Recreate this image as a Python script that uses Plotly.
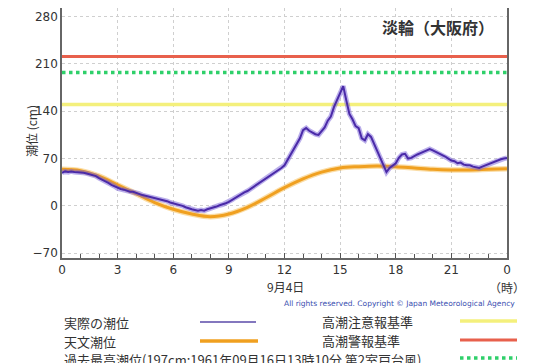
import plotly.graph_objects as go

# ---------------- data ----------------
# observed tide (cm), every 10 minutes from 0:00 to 24:00 on Sep 4
observed = [
    49, 51, 50, 51, 50, 50,
    50, 49, 48, 47, 45, 44,
    41, 39, 36, 34, 31, 29,
    26, 25, 24, 22, 21, 21,
    19, 18, 16, 15, 14, 13,
    12, 11, 9, 8, 7, 5,
    4, 3, 1, 0, -2, -4,
    -5, -6, -7, -6, -7, -5,
    -4, -3, -1, 1, 2, 4,
    6, 9, 12, 14, 17, 20,
    22, 25, 28, 32, 35, 38,
    40, 43, 47, 50, 53, 56,
    60, 68, 76, 84, 92, 100,
    112, 115, 111, 108, 106, 105,
    110, 116, 126, 132, 146, 156,
    168, 177, 156, 136, 128, 118,
    115, 100, 97, 106, 102, 92,
    81, 70, 60, 50, 56, 60,
    63, 71, 76, 77, 70, 71,
    74, 76, 78, 80, 82, 84,
    82, 80, 78, 76, 73, 70,
    67, 66, 63, 64, 61, 60,
    60, 58, 57, 56, 58, 60,
    62, 63, 65, 67, 69, 70,
    71,
]
obs_hours = [i / 6 for i in range(len(observed))]

# astronomical tide (cm), hourly
astro_hours = list(range(25))
astro = [54, 52, 44, 31, 18, 5, -5, -12, -16, -12, -2, 12, 27,
         40, 50, 56, 58, 59, 58, 56, 54, 53, 53, 54, 55]

# reference levels (cm)
advisory_level = 150   # 高潮注意報基準
warning_level = 221    # 高潮警報基準
record_level = 197     # 過去最高潮位
level_hours = [0, 24]

x_tickvals = [0, 3, 6, 9, 12, 15, 18, 21, 24]
x_ticktext = ["0", "3", "6", "9", "12", "15", "18", "21", "0"]
y_tickvals = [-70, 0, 70, 140, 210, 280]

# ---------------- figure ----------------
JP = "Noto Sans CJK JP, Noto Sans, sans-serif"
TXT = "#333333"

fig = go.Figure()

fig.add_trace(go.Scatter(x=level_hours, y=[advisory_level] * 2, mode="lines",
                         line=dict(color="#F4F07C", width=3.5), hoverinfo="skip"))
fig.add_trace(go.Scatter(x=level_hours, y=[warning_level] * 2, mode="lines",
                         line=dict(color="#E8604C", width=3), hoverinfo="skip"))
fig.add_trace(go.Scatter(x=level_hours, y=[record_level] * 2, mode="lines",
                         line=dict(color="#2FD06A", width=3.5, dash="dot"), hoverinfo="skip"))

# astronomical tide
fig.add_trace(go.Scatter(x=astro_hours, y=astro, mode="lines", line_shape="spline",
                         line=dict(color="rgba(245,180,60,0.45)", width=5.5), hoverinfo="skip"))
fig.add_trace(go.Scatter(x=astro_hours, y=astro, mode="lines", line_shape="spline",
                         line=dict(color="#F0A020", width=3)))

# observed tide
fig.add_trace(go.Scatter(x=obs_hours, y=observed, mode="lines",
                         line=dict(color="rgba(120,95,215,0.5)", width=5), hoverinfo="skip"))
fig.add_trace(go.Scatter(x=obs_hours, y=observed, mode="lines",
                         line=dict(color="#4A2AA8", width=2)))

# page body has an 8px margin: figure is placed at (8, 8)
fig.update_layout(
    width=529, height=355,
    margin=dict(l=54, r=30, t=0, b=105, autoexpand=False),
    paper_bgcolor="white", plot_bgcolor="white",
    showlegend=False,
    font=dict(family=JP, color=TXT, size=12),
    xaxis=dict(range=[0, 24], tickvals=x_tickvals, ticktext=x_ticktext,
               showgrid=True, gridcolor="#cfcfcf", griddash="dot", gridwidth=1,
               showline=True, linecolor="#666666", linewidth=1.5, mirror=True,
               ticks="inside", ticklen=5, tickcolor="#555555",
               minor=dict(dtick=1, ticks="inside", ticklen=4, tickcolor="#555555", showgrid=False),
               tickfont=dict(size=12, color=TXT, family="DejaVu Sans, sans-serif"),
               zeroline=False, automargin=False),
    yaxis=dict(range=[-77, 292.5], tickvals=y_tickvals,
               showgrid=True, gridcolor="#cfcfcf", griddash="dot", gridwidth=1,
               showline=True, linecolor="#666666", linewidth=1.5, mirror=True,
               ticks="", tickfont=dict(size=12, color=TXT, family="DejaVu Sans, sans-serif"),
               zeroline=False, automargin=False),
)

# helpers: page pixel -> paper coordinate (plot area spans page x 62..507, y 8..258)
def px_x(x):
    return (x - 62) / 445

def px_y(y):
    return (258 - y) / 250

ann = []
ann.append(dict(text="<b>淡輪（大阪府）</b>", x=px_x(496), y=px_y(27), xanchor="right",
                yanchor="middle", font=dict(size=16, color=TXT, family=JP)))
ann.append(dict(text="潮位 (cm)", x=px_x(31), y=px_y(131), textangle=-90,
                xanchor="center", yanchor="middle", font=dict(size=12, color=TXT, family=JP)))
ann.append(dict(text="9月4日", x=px_x(285), y=px_y(286), xanchor="center", yanchor="middle",
                font=dict(size=12, color=TXT, family=JP)))
ann.append(dict(text="（時）", x=px_x(507), y=px_y(287), xanchor="center", yanchor="middle",
                font=dict(size=12, color=TXT, family=JP)))
ann.append(dict(text="All rights reserved. Copyright © Japan Meteorological Agency",
                x=px_x(517), y=px_y(303), xanchor="right", yanchor="middle",
                font=dict(size=7.5, color="#3a4fb0", family="DejaVu Sans, sans-serif")))
ann.append(dict(text="実際の潮位", x=px_x(62), y=px_y(322), xanchor="left", yanchor="middle",
                font=dict(size=13, color=TXT, family=JP)))
ann.append(dict(text="天文潮位", x=px_x(62), y=px_y(341), xanchor="left", yanchor="middle",
                font=dict(size=13, color=TXT, family=JP)))
ann.append(dict(text="過去最高潮位(197cm:1961年09月16日13時10分 第2室戸台風)", x=px_x(62),
                y=px_y(359), xanchor="left", yanchor="middle",
                font=dict(size=13, color=TXT, family=JP)))
ann.append(dict(text="高潮注意報基準", x=px_x(320), y=px_y(321), xanchor="left", yanchor="middle",
                font=dict(size=13, color=TXT, family=JP)))
ann.append(dict(text="高潮警報基準", x=px_x(320), y=px_y(340), xanchor="left", yanchor="middle",
                font=dict(size=13, color=TXT, family=JP)))
for a in ann:
    a.update(xref="paper", yref="paper", showarrow=False)
fig.update_layout(annotations=ann)

shapes = [
    dict(x0=px_x(200), x1=px_x(256), y0=px_y(322), y1=px_y(322), line=dict(color="#5a4aa8", width=1.5)),
    dict(x0=px_x(200), x1=px_x(258), y0=px_y(341), y1=px_y(341), line=dict(color="#F0A020", width=3.5)),
    dict(x0=px_x(460), x1=px_x(517), y0=px_y(321), y1=px_y(321), line=dict(color="#F4F07C", width=3.5)),
    dict(x0=px_x(460), x1=px_x(517), y0=px_y(340), y1=px_y(340), line=dict(color="#E8604C", width=3)),
    dict(x0=px_x(460), x1=px_x(517), y0=px_y(358), y1=px_y(358), line=dict(color="#2FD06A", width=3.5, dash="dot")),
]
for s in shapes:
    s.update(type="line", xref="paper", yref="paper")
fig.update_layout(shapes=shapes)

fig.write_html("out.html")
